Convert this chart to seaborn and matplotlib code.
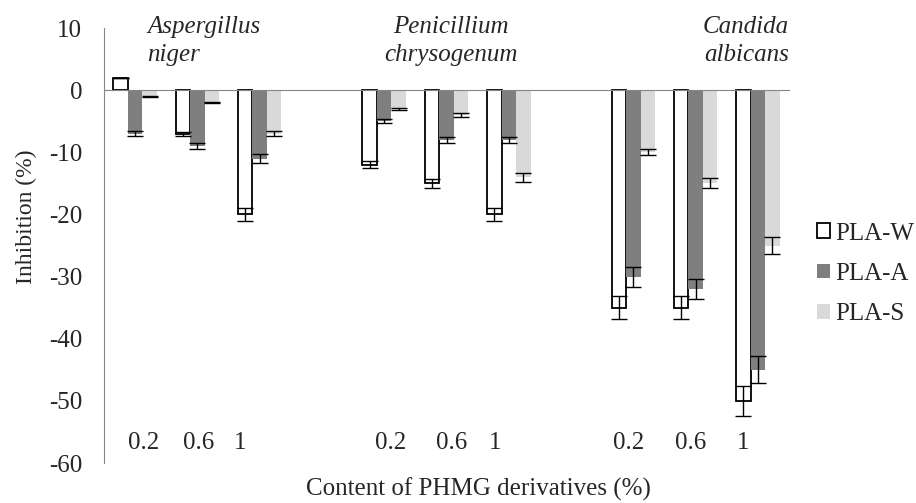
import pandas as pd
import numpy as np
import seaborn as sns
import matplotlib.pyplot as plt
from matplotlib.patches import Patch

fungi = ["Aspergillus\nniger", "Penicillium\nchrysogenum", "Candida\nalbicans"]
contents = ["0.2", "0.6", "1"]
series = ["PLA-W", "PLA-A", "PLA-S"]

# inhibition (%) for each fungus at content 0.2 / 0.6 / 1
pla_w = [[2, -7, -20], [-12, -15, -20], [-35, -35, -50]]
pla_a = [[-7, -9, -11], [-5, -8, -8], [-30, -32, -45]]
pla_s = [[-1, -2, -7], [-3, -4, -14], [-10, -15, -25]]

# error bars
err_w = [[0, 0.3, 1.0], [0.6, 0.75, 1.0], [1.8, 1.8, 2.4]]
err_a = [[0.4, 0.5, 0.7], [0.3, 0.5, 0.5], [1.6, 1.6, 2.2]]
err_s = [[0.1, 0.1, 0.4], [0.2, 0.3, 0.7], [0.5, 0.8, 1.3]]

colors = ["white", "#7f7f7f", "#d9d9d9"]

sns.set_style("white")
plt.rcParams["font.family"] = ["Liberation Serif", "DejaVu Serif"]
plt.rcParams["axes.unicode_minus"] = False

# build long table, with blank slots between fungi
rows = []
order = []
for f in range(3):
    for c in range(3):
        key = f"{f}-{contents[c]}"
        order.append(key)
        for s, vals in enumerate([pla_w, pla_a, pla_s]):
            rows.append({"cat": key, "series": series[s], "value": vals[f][c]})
    if f < 2:
        order.append(" " * (f + 1))
df = pd.DataFrame(rows)
errs = [err_w, err_a, err_s]

fig, ax = plt.subplots(figsize=(9.16, 5.03), dpi=100)
fig.subplots_adjust(left=0.1135, right=0.8614, top=0.9443, bottom=0.0795)

sns.barplot(data=df, x="cat", y="value", hue="series", order=order, hue_order=series,
            palette=colors, width=0.7, errorbar=None, legend=False, ax=ax)

bar_containers = list(ax.containers)
for i, cont in enumerate(bar_containers):
    e = [v for row in errs[i] for v in row]
    xs, ys = [], []
    for b in cont:
        xs.append(b.get_x() + b.get_width() / 2)
        ys.append(b.get_y() + b.get_height())
        if i == 0:
            b.set_edgecolor("black")
            b.set_linewidth(1.3)
        else:
            b.set_linewidth(0)
    ax.errorbar(xs, ys, yerr=e, fmt="none", ecolor="black", elinewidth=1,
                capsize=5.5, capthick=1, zorder=5)

gray = "#868686"
ax.set_xlim(-0.5, 10.5)
ax.set_ylim(-60, 10)
ax.set_yticks(range(-60, 11, 10))
ax.set_xticks([])
ax.set_xticks(np.arange(-0.5, 11, 1), minor=True)
ax.tick_params(axis="x", which="minor", length=5, width=1, color=gray, direction="out",
               labelbottom=False)
ax.tick_params(axis="y", length=5.8, width=1, color=gray, direction="out",
               labelsize=18, pad=10)
for sp in ["top", "right"]:
    ax.spines[sp].set_visible(False)
ax.spines["bottom"].set_position(("data", 0))
ax.spines["bottom"].set_color(gray)
ax.spines["left"].set_color(gray)

# content labels
label_shift = [0.13, 0.02, -0.32, 0.10, 0.08, -0.22, -0.08, -0.08, -0.24]
for k, key in enumerate([o for o in order if o.strip()]):
    xpos = order.index(key) + label_shift[k]
    ax.text(xpos, -56.8, contents[k % 3], ha="center", va="center", fontsize=18)

# fungus names
ax.text(0.19, 7.9, fungi[0], ha="left", va="center", style="italic", fontsize=18,
        multialignment="left", linespacing=1.35)
ax.text(5.07, 7.9, fungi[1], ha="center", va="center", style="italic", fontsize=18,
        multialignment="center", linespacing=1.35)
ax.text(10.5, 7.9, fungi[2], ha="right", va="center", style="italic", fontsize=18,
        multialignment="right", linespacing=1.35)

ax.set_xlabel("Content of PHMG derivatives (%)", fontsize=18, va="baseline")
ax.xaxis.set_label_coords(0.546, -0.075)
ax.set_ylabel("Inhibition (%)", fontsize=17)
ax.yaxis.set_label_coords(-0.098, 0.565)

handles = [Patch(facecolor=colors[0], edgecolor="black", linewidth=1.3),
           Patch(facecolor=colors[1], edgecolor="none"),
           Patch(facecolor=colors[2], edgecolor="none")]
fig.legend(handles, series, loc="center left", bbox_to_anchor=(817 / 916, 1 - 274 / 503),
           frameon=False, fontsize=18, handlelength=0.52, handleheight=0.52,
           handletextpad=0.2, labelspacing=0.74, borderpad=0, borderaxespad=0)

fig.savefig("out.png", dpi=100)
